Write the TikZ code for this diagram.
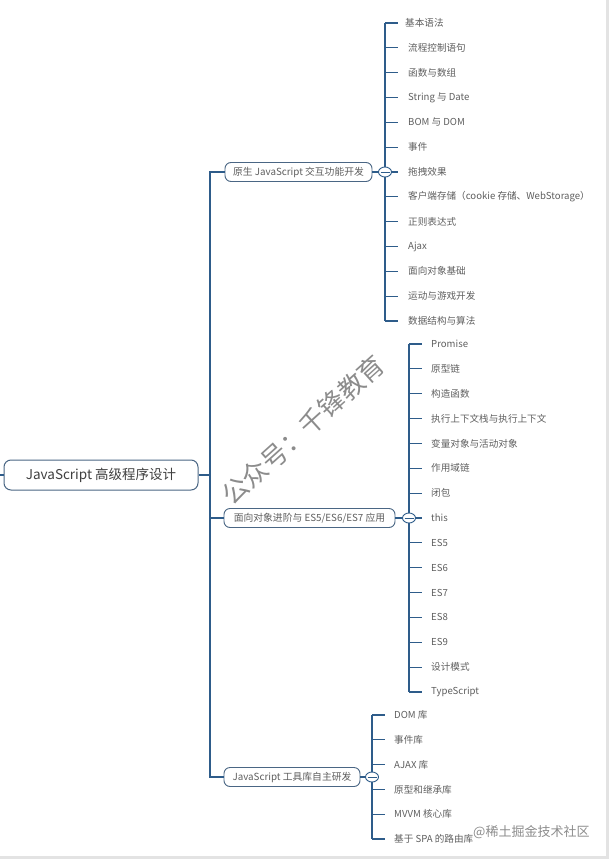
\documentclass[tikz,border=0pt]{standalone}
\usepackage{fontspec}
\setmainfont{Noto Sans CJK SC}
\usetikzlibrary{shapes.geometric,calc}
\definecolor{conn}{HTML}{2E5C8A}
\definecolor{boxline}{HTML}{4A6684}
\definecolor{leaftext}{HTML}{5E5E5E}
\definecolor{wm}{HTML}{8C8C8C}
\definecolor{frame}{HTML}{E3E3E3}
\begin{document}
\begin{tikzpicture}[x=1pt,y=-1pt,
  connline/.style={draw=conn,line width=1.1pt},
  rootbox/.style={draw=boxline,line width=1pt,rounded corners=7pt,fill=white,
    minimum width=194pt,minimum height=30pt,inner sep=0pt,text=black!75,
    font=\fontsize{13.5}{15}\selectfont},
  branchbox/.style={draw=boxline,line width=0.9pt,rounded corners=6pt,fill=white,
    minimum height=19pt,inner sep=0pt,text=leaftext,
    font=\fontsize{9.8}{11}\selectfont},
  leaf/.style={anchor=west,inner sep=0pt,text=leaftext,
    font=\fontsize{9.6}{11}\selectfont},
  collapse/.style={ellipse,draw=conn,line width=0.9pt,fill=white,
    minimum width=13pt,minimum height=10pt,inner sep=0pt,
    path picture={\draw[conn,line width=0.8pt]
      ([xshift=-4.5pt]path picture bounding box.center) --
      ([xshift=4.5pt]path picture bounding box.center);}},
  watermark/.style={text=wm,inner sep=0pt}
]
\useasboundingbox (0,0) rectangle (609,859);
\fill[frame] (606,0) rectangle (609,859);
\fill[frame] (0,856) rectangle (609,859);

% root
\node[rootbox] (root) at (101,475) {JavaScript 高级程序设计};
\coordinate (lefte) at (0,475);
\draw[connline] (lefte) -- (root.west);
\coordinate (trunk) at (210,0);

% branches
\node[branchbox,minimum width=147pt] (b1) at (298.5,172) {原生 JavaScript 交互功能开发};
\node[branchbox,minimum width=171pt] (b2) at (309.5,518) {面向对象进阶与 ES5/ES6/ES7 应用};
\node[branchbox,minimum width=136pt] (b3) at (292,777) {JavaScript 工具库自主研发};

\draw[connline] (b1.west) -- (b1.west -| trunk) -- (b3.west -| trunk) -- (b3.west);
\draw[connline] (b2.west) -- (b2.west -| trunk);
\draw[connline] (root.east) -- (root.east -| trunk);

% branch 1 leaves
\coordinate (s1) at (385,0);
\foreach \t [count=\i] in {基本语法,流程控制语句,函数与数组,String 与 Date,BOM 与 DOM,事件,拖拽效果,客户端存储（cookie 存储、WebStorage）,正则表达式,Ajax,面向对象基础,运动与游戏开发,数据结构与算法}
  \node[leaf] (a\i) at ({\i==1 ? 405 : 408},{23+24.83*(\i-1)}) {\t};
\draw[connline] (a1.west -| s1) -- (a13.west -| s1);
\foreach \i in {1,...,13}
  \draw[connline] (a\i.west -| s1) -- ($(a\i.west -| s1)+(13,0)$);
\node[collapse] (k1) at (b1.east -| s1) {};
\draw[connline] (b1.east) -- (k1.west);

% branch 2 leaves
\coordinate (s2) at (409,0);
\foreach \t [count=\i] in {Promise,原型链,构造函数,执行上下文栈与执行上下文,变量对象与活动对象,作用域链,闭包,this,ES5,ES6,ES7,ES8,ES9,设计模式,TypeScript}
  \node[leaf] (c\i) at (431,{344+24.86*(\i-1)}) {\t};
\draw[connline] (c1.west -| s2) -- (c15.west -| s2);
\foreach \i in {1,...,15}
  \draw[connline] (c\i.west -| s2) -- ($(c\i.west -| s2)+(13,0)$);
\node[collapse] (k2) at (b2.east -| s2) {};
\draw[connline] (b2.east) -- (k2.west);

% branch 3 leaves
\coordinate (s3) at (372,0);
\foreach \t [count=\i] in {DOM 库,事件库,AJAX 库,原型和继承库,MVVM 核心库,基于 SPA 的路由库}
  \node[leaf] (d\i) at (394,{715+24.8*(\i-1)}) {\t};
\draw[connline] (d1.west -| s3) -- (d6.west -| s3);
\foreach \i in {1,...,6}
  \draw[connline] (d\i.west -| s3) -- ($(d\i.west -| s3)+(13,0)$);
\node[collapse] (k3) at (b3.east -| s3) {};
\draw[connline] (b3.east) -- (k3.west);

% watermarks
\node[watermark,rotate=42,font=\fontsize{26}{28}\selectfont] (wm1) at (303,430) {公众号：千锋教育};
\node[watermark,anchor=west,font=\fontsize{13}{15}\selectfont] (wm2) at (473,832) {@稀土掘金技术社区};
\end{tikzpicture}
\end{document}
